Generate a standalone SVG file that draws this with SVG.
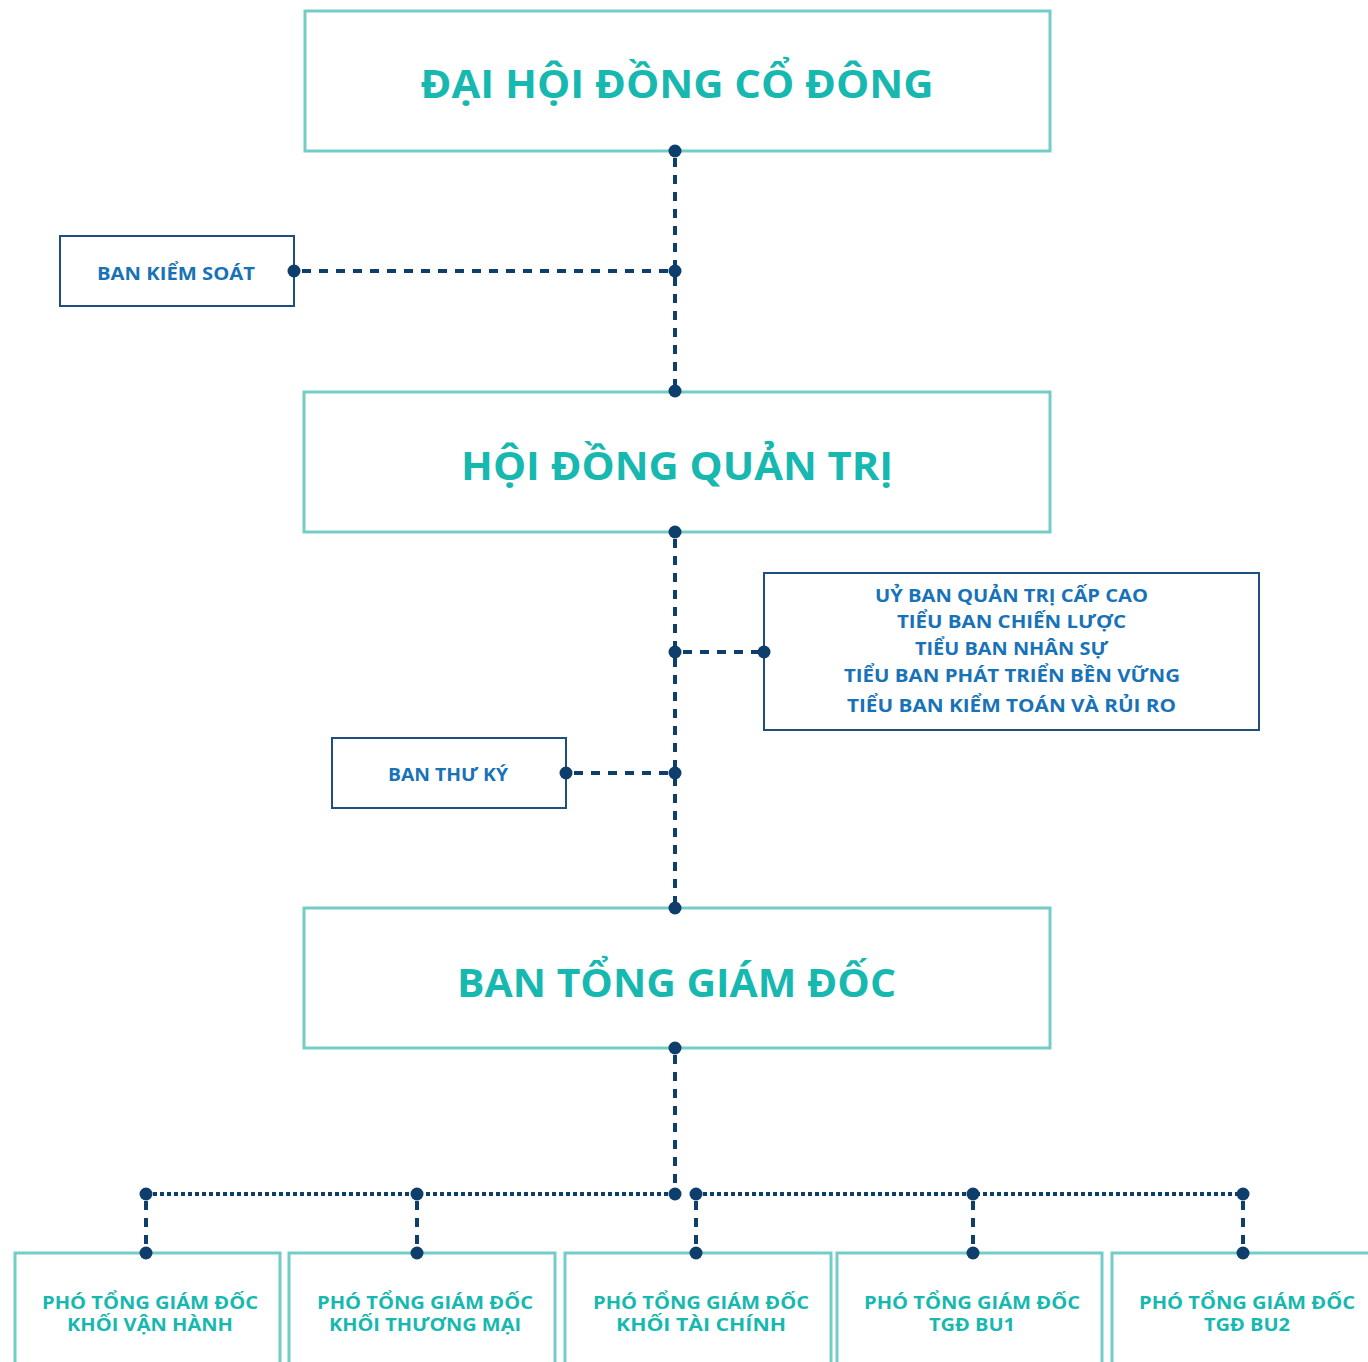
<svg xmlns="http://www.w3.org/2000/svg" width="1368" height="1362" viewBox="0 0 1368 1362">
<style>
.big{fill:#fff;stroke:#74ccc7;stroke-width:3}
.small{fill:#fff;stroke:#1d4f80;stroke-width:2}
.t1{font-family:"Open Sans","Liberation Sans",sans-serif;font-weight:700;font-size:39px;fill:#17b8af;text-anchor:middle}
.t2{font-family:"Open Sans","Liberation Sans",sans-serif;font-weight:700;font-size:18px;fill:#1872b8;text-anchor:middle}
.t3{font-family:"Open Sans","Liberation Sans",sans-serif;font-weight:700;font-size:18px;fill:#17b8af;text-anchor:middle}
.dash{stroke:#0e3e6b;stroke-width:4;stroke-dasharray:9 8;fill:none}
.dot{stroke:#0e3e6b;stroke-width:4;stroke-dasharray:4 3;fill:none}
.pt{fill:#0e3e6b}
</style>
<rect width="1368" height="1362" fill="#fff"/>
<g id="dhcd">
<rect class="big" x="305" y="11" width="745" height="140"/>
<text class="t1" x="677" y="98" textLength="513" lengthAdjust="spacingAndGlyphs">ĐẠI HỘI ĐỒNG CỔ ĐÔNG</text>
</g>
<g id="bks">
<rect class="small" x="60" y="236" width="234" height="70"/>
<text class="t2" x="176" y="280" textLength="158" lengthAdjust="spacingAndGlyphs">BAN KIỂM SOÁT</text>
</g>
<g id="hdqt">
<rect class="big" x="304" y="392" width="746" height="140"/>
<text class="t1" x="677" y="480" textLength="432" lengthAdjust="spacingAndGlyphs">HỘI ĐỒNG QUẢN TRỊ</text>
</g>
<g id="uyban">
<rect class="small" x="764" y="573" width="495" height="157"/>
<text class="t2" x="1011.5" y="602" textLength="273" lengthAdjust="spacingAndGlyphs">UỶ BAN QUẢN TRỊ CẤP CAO</text>
<text class="t2" x="1011.5" y="628" textLength="229" lengthAdjust="spacingAndGlyphs">TIỂU BAN CHIẾN LƯỢC</text>
<text class="t2" x="1011.5" y="655" textLength="193" lengthAdjust="spacingAndGlyphs">TIỂU BAN NHÂN SỰ</text>
<text class="t2" x="1012" y="682" textLength="336" lengthAdjust="spacingAndGlyphs">TIỂU BAN PHÁT TRIỂN BỀN VỮNG</text>
<text class="t2" x="1011.5" y="712" textLength="329" lengthAdjust="spacingAndGlyphs">TIỂU BAN KIỂM TOÁN VÀ RỦI RO</text>
</g>
<g id="btk">
<rect class="small" x="332" y="738" width="234" height="70"/>
<text class="t2" x="448" y="781" textLength="120" lengthAdjust="spacingAndGlyphs">BAN THƯ KÝ</text>
</g>
<g id="btgd">
<rect class="big" x="304" y="908" width="746" height="140"/>
<text class="t1" x="676.5" y="997" textLength="439" lengthAdjust="spacingAndGlyphs">BAN TỔNG GIÁM ĐỐC</text>
</g>
<g id="p1">
<rect class="big" x="15" y="1253" width="265" height="120"/>
<text class="t3" x="150" y="1309" textLength="216" lengthAdjust="spacingAndGlyphs">PHÓ TỔNG GIÁM ĐỐC</text>
<text class="t3" x="150" y="1331" textLength="166" lengthAdjust="spacingAndGlyphs">KHỐI VẬN HÀNH</text>
</g>
<g id="p2">
<rect class="big" x="289" y="1253" width="266" height="120"/>
<text class="t3" x="425" y="1309" textLength="216" lengthAdjust="spacingAndGlyphs">PHÓ TỔNG GIÁM ĐỐC</text>
<text class="t3" x="425" y="1331" textLength="192" lengthAdjust="spacingAndGlyphs">KHỐI THƯƠNG MẠI</text>
</g>
<g id="p3">
<rect class="big" x="565" y="1253" width="266" height="120"/>
<text class="t3" x="701" y="1309" textLength="216" lengthAdjust="spacingAndGlyphs">PHÓ TỔNG GIÁM ĐỐC</text>
<text class="t3" x="701" y="1331" textLength="170" lengthAdjust="spacingAndGlyphs">KHỐI TÀI CHÍNH</text>
</g>
<g id="p4">
<rect class="big" x="837" y="1253" width="265" height="120"/>
<text class="t3" x="972" y="1309" textLength="216" lengthAdjust="spacingAndGlyphs">PHÓ TỔNG GIÁM ĐỐC</text>
<text class="t3" x="972" y="1331" textLength="86" lengthAdjust="spacingAndGlyphs">TGĐ BU1</text>
</g>
<g id="p5">
<rect class="big" x="1112" y="1253" width="270" height="120"/>
<text class="t3" x="1247" y="1309" textLength="216" lengthAdjust="spacingAndGlyphs">PHÓ TỔNG GIÁM ĐỐC</text>
<text class="t3" x="1247" y="1331" textLength="86" lengthAdjust="spacingAndGlyphs">TGĐ BU2</text>
</g>
<g id="connectors">
<line class="dash" x1="675" y1="158" x2="675" y2="391"/>
<line class="dash" x1="302" y1="271" x2="675" y2="271"/>
<line class="dash" x1="675" y1="539" x2="675" y2="908"/>
<line class="dash" x1="683" y1="652" x2="764" y2="652"/>
<line class="dash" x1="574" y1="773" x2="675" y2="773"/>
<line class="dash" x1="675" y1="1055" x2="675" y2="1194"/>
<line class="dot" x1="146" y1="1194" x2="675" y2="1194"/>
<line class="dot" x1="696" y1="1194" x2="1243" y2="1194"/>
<line class="dash" x1="146" y1="1201" x2="146" y2="1253"/>
<line class="dash" x1="417" y1="1201" x2="417" y2="1253"/>
<line class="dash" x1="696" y1="1201" x2="696" y2="1253"/>
<line class="dash" x1="973" y1="1201" x2="973" y2="1253"/>
<line class="dash" x1="1243" y1="1201" x2="1243" y2="1253"/>
<circle class="pt" cx="675" cy="151" r="6.5"/>
<circle class="pt" cx="675" cy="271" r="6.5"/>
<circle class="pt" cx="294" cy="271" r="6.5"/>
<circle class="pt" cx="675" cy="391" r="6.5"/>
<circle class="pt" cx="675" cy="532" r="6.5"/>
<circle class="pt" cx="675" cy="652" r="6.5"/>
<circle class="pt" cx="764" cy="652" r="6.5"/>
<circle class="pt" cx="675" cy="773" r="6.5"/>
<circle class="pt" cx="566" cy="773" r="6.5"/>
<circle class="pt" cx="675" cy="908" r="6.5"/>
<circle class="pt" cx="675" cy="1048" r="6.5"/>
<circle class="pt" cx="675" cy="1194" r="6.5"/>
<circle class="pt" cx="146" cy="1194" r="6.5"/>
<circle class="pt" cx="417" cy="1194" r="6.5"/>
<circle class="pt" cx="696" cy="1194" r="6.5"/>
<circle class="pt" cx="973" cy="1194" r="6.5"/>
<circle class="pt" cx="1243" cy="1194" r="6.5"/>
<circle class="pt" cx="146" cy="1253" r="6.5"/>
<circle class="pt" cx="417" cy="1253" r="6.5"/>
<circle class="pt" cx="696" cy="1253" r="6.5"/>
<circle class="pt" cx="973" cy="1253" r="6.5"/>
<circle class="pt" cx="1243" cy="1253" r="6.5"/>
</g>
</svg>
